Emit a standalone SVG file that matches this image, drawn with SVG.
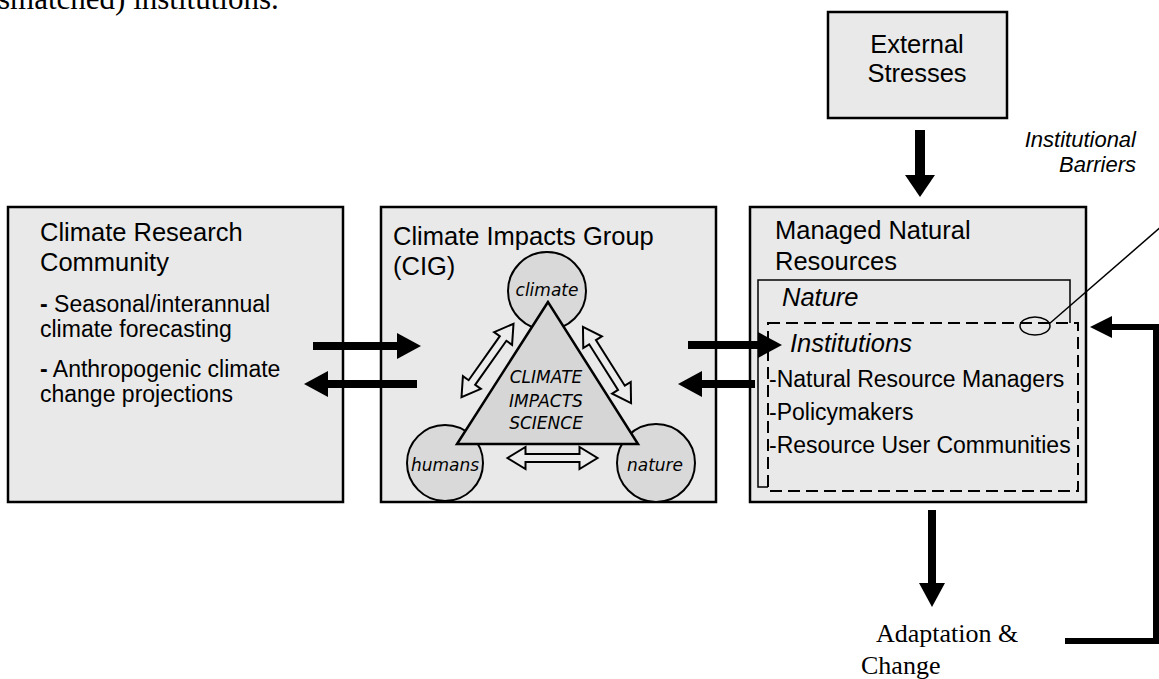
<svg xmlns="http://www.w3.org/2000/svg" width="1159" height="679" viewBox="0 0 1159 679">
<style>
.box{fill:#e9e9e9;stroke:#000;stroke-width:2.5}
.t{font-family:"Liberation Sans",Arial,sans-serif;fill:#000}
.title{font-size:25.5px}
.item{font-size:23px}
.it{font-style:italic}
.comic{font-family:"DejaVu Sans",sans-serif;font-style:italic;font-size:17px;fill:#000}
.serif{font-family:"Liberation Serif","Times New Roman",serif;fill:#000}
.circ{fill:#d9d9d9;stroke:#000;stroke-width:2}
.dbl{fill:#ececec;stroke:#000;stroke-width:2;stroke-linejoin:miter}
.conn{fill:none;stroke:#000}
</style>
<defs>
<marker id="head" viewBox="0 0 24 26" refX="0" refY="13" markerWidth="24" markerHeight="26" markerUnits="userSpaceOnUse" orient="auto">
<path d="M0,0 L24,13 L0,26 z" fill="#000"/>
</marker>
<marker id="headL" viewBox="0 0 22 30" refX="0" refY="15" markerWidth="22" markerHeight="30" markerUnits="userSpaceOnUse" orient="auto">
<path d="M0,0 L22,15 L0,30 z" fill="#000"/>
</marker>
<marker id="headS" viewBox="0 0 22 22" refX="0" refY="11" markerWidth="22" markerHeight="22" markerUnits="userSpaceOnUse" orient="auto">
<path d="M0,0 L22,11 L0,22 z" fill="#000"/>
</marker>
<polygon id="dblArrow" points="-45,0 -27,-11 -27,-4 27,-4 27,-11 45,0 27,11 27,4 -27,4 -27,11"/>
</defs>

<text class="serif" x="-2" y="9" font-size="31">smatched) institutions.</text>

<g id="crc">
<rect class="box" x="8" y="207" width="335" height="295"/>
<text class="t title" x="40" y="241">Climate Research</text>
<text class="t title" x="40" y="271">Community</text>
<text class="t item" x="40" y="312"><tspan font-weight="bold">-</tspan> Seasonal/interannual</text>
<text class="t item" x="40" y="337">climate forecasting</text>
<text class="t item" x="40" y="377"><tspan font-weight="bold">-</tspan> Anthropogenic climate</text>
<text class="t item" x="40" y="402">change projections</text>
</g>

<g id="cig">
<rect class="box" x="381" y="207" width="335" height="295"/>
<text class="t title" x="393" y="245">Climate Impacts Group</text>
<text class="t title" x="393" y="275">(CIG)</text>
<circle class="circ" cx="547" cy="291" r="39"/>
<circle class="circ" cx="445" cy="463" r="38"/>
<circle class="circ" cx="656" cy="463" r="39"/>
<polygon points="548,302 457,444 638,444" fill="#d6d6d6" stroke="#000" stroke-width="2.5" stroke-linejoin="miter"/>
<text class="comic" x="547" y="296" text-anchor="middle">climate</text>
<text class="comic" x="445" y="471" text-anchor="middle">humans</text>
<text class="comic" x="655" y="471" text-anchor="middle">nature</text>
<text class="comic" x="546" y="383" text-anchor="middle">CLIMATE</text>
<text class="comic" x="546" y="407" text-anchor="middle">IMPACTS</text>
<text class="comic" x="546" y="429" text-anchor="middle">SCIENCE</text>
<use href="#dblArrow" class="dbl" transform="translate(487.5,360.5) rotate(-54.7)"/>
<use href="#dblArrow" class="dbl" transform="translate(607,365) rotate(57.7)"/>
<use href="#dblArrow" class="dbl" transform="translate(552.5,458)"/>
</g>

<g id="mnr">
<rect class="box" x="750" y="207" width="336" height="295"/>
<text class="t title" x="775" y="239">Managed Natural</text>
<text class="t title" x="775" y="270">Resources</text>
<rect x="758" y="280" width="312" height="207" fill="#e9e9e9" stroke="#000" stroke-width="1.5"/>
<text class="t title it" x="782" y="306">Nature</text>
<rect x="768" y="323" width="310" height="168" fill="#e9e9e9" stroke="#000" stroke-width="2" stroke-dasharray="12 6"/>
<text class="t title it" x="790" y="352">Institutions</text>
<text class="t item" x="769" y="387">-Natural Resource Managers</text>
<text class="t item" x="769" y="420">-Policymakers</text>
<text class="t item" x="769" y="453">-Resource User Communities</text>
<ellipse cx="1035" cy="326" rx="15" ry="9" fill="none" stroke="#000" stroke-width="1.5"/>
</g>

<g id="ext">
<rect class="box" x="828" y="12" width="179" height="106"/>
<text class="t title" x="917" y="53" text-anchor="middle">External</text>
<text class="t title" x="917" y="82" text-anchor="middle">Stresses</text>
</g>

<g id="barriers">
<text class="t it" font-size="22" x="1136" y="147" text-anchor="end">Institutional</text>
<text class="t it" font-size="22" x="1136" y="172" text-anchor="end">Barriers</text>
</g>

<g id="adapt">
<text class="serif" font-size="26" x="876" y="642">Adaptation &amp;</text>
<text class="serif" font-size="26" x="861" y="674">Change</text>
</g>

<g id="connectors">
<line class="conn" x1="313" y1="346" x2="397" y2="346" stroke-width="8" marker-end="url(#head)"/>
<line class="conn" x1="417" y1="384" x2="328" y2="384" stroke-width="8" marker-end="url(#head)"/>
<line class="conn" x1="688" y1="345" x2="758" y2="345" stroke-width="8" marker-end="url(#head)"/>
<line class="conn" x1="755" y1="384" x2="702" y2="384" stroke-width="8" marker-end="url(#head)"/>
<line class="conn" x1="920" y1="130" x2="920" y2="175" stroke-width="10" marker-end="url(#headL)"/>
<line class="conn" x1="932" y1="510" x2="932" y2="583" stroke-width="8" marker-end="url(#head)"/>
<polyline class="conn" points="1065,641 1156,641 1156,327 1112,327" stroke-width="6" stroke-linejoin="miter" marker-end="url(#headS)"/>
<line class="conn" x1="1049" y1="324" x2="1162" y2="226" stroke-width="1.5"/>
</g>
</svg>
